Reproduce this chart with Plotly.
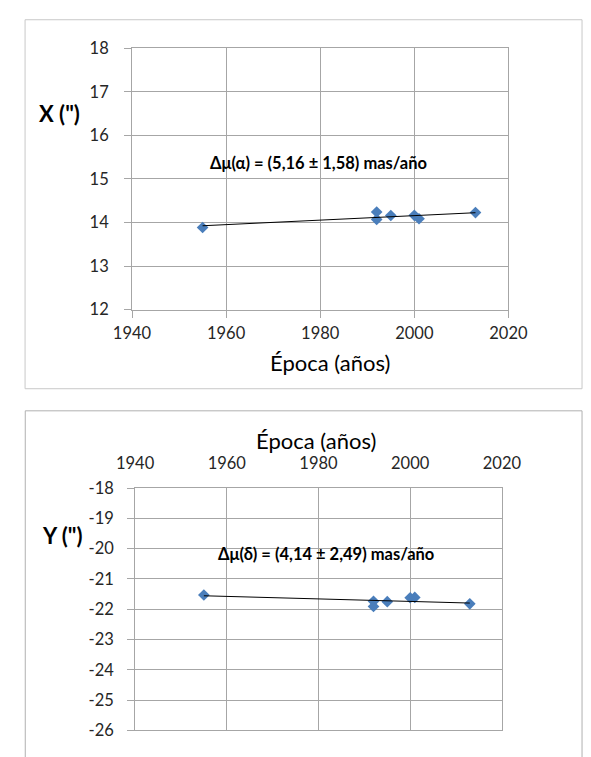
import plotly.graph_objects as go

# Observation epochs (years) and measured offsets (arcsec)
epochs = [1955, 1992, 1992, 1995, 2000, 2001, 2013]
x_offsets = [13.884, 14.24, 14.07, 14.16, 14.165, 14.085, 14.226]
y_offsets = [-21.53, -21.74, -21.91, -21.75, -21.62, -21.61, -21.82]

# Fitted proper-motion differences (mas/year) and their errors
mu_alpha, mu_alpha_err = 5.16, 1.58
mu_delta, mu_delta_err = 4.14, 2.49

x_ticks = [1940, 1960, 1980, 2000, 2020]
top_y_ticks = [12, 13, 14, 15, 16, 17, 18]
bottom_y_ticks = [-26, -25, -24, -23, -22, -21, -20, -19, -18]

W, H = 591, 757
FONT = "Lato"
GRID = "#A6A6A6"
MARKER = "#4A7EBB"


def px(x):
    return x / W


def py(y):
    return 1 - y / H


def trend(xs, ys, slope):
    """Straight line with the given slope through the centroid of the points."""
    mx = sum(xs) / len(xs)
    my = sum(ys) / len(ys)
    x0, x1 = min(xs), max(xs)
    return [x0, x1], [my + slope * (x0 - mx), my + slope * (x1 - mx)]


def label(v):
    # plain hyphen for negative numbers, as in spreadsheet charts
    return str(v)


fig = go.Figure()

# Top panel: X offset versus epoch
fig.add_trace(go.Scatter(
    x=epochs, y=x_offsets, mode="markers",
    marker=dict(symbol="diamond", size=9, color=MARKER),
    xaxis="x", yaxis="y", showlegend=False, hoverinfo="x+y"))
tx, ty = trend(epochs, x_offsets, mu_alpha / 1000)
fig.add_trace(go.Scatter(
    x=tx, y=ty, mode="lines", line=dict(color="#000000", width=1),
    xaxis="x", yaxis="y", showlegend=False, hoverinfo="skip"))

# Bottom panel: Y offset versus epoch (Y decreases with time)
fig.add_trace(go.Scatter(
    x=epochs, y=y_offsets, mode="markers",
    marker=dict(symbol="diamond", size=9, color=MARKER),
    xaxis="x2", yaxis="y2", showlegend=False, hoverinfo="x+y"))
bx, by = trend(epochs, y_offsets, -mu_delta / 1000)
fig.add_trace(go.Scatter(
    x=bx, y=by, mode="lines", line=dict(color="#000000", width=1),
    xaxis="x2", yaxis="y2", showlegend=False, hoverinfo="skip"))

tick_font = dict(family=FONT, size=16.5, color="#262626")

common_x = dict(
    range=[x_ticks[0], x_ticks[-1]], tickvals=x_ticks,
    ticktext=[label(v) for v in x_ticks],
    showgrid=True, gridcolor=GRID, gridwidth=1,
    showline=True, linecolor=GRID, linewidth=1, mirror=True,
    zeroline=False, tickfont=tick_font, fixedrange=True,
)
common_y = dict(
    showgrid=True, gridcolor=GRID, gridwidth=1,
    showline=True, linecolor=GRID, linewidth=1, mirror=True,
    zeroline=False, tickfont=tick_font, fixedrange=True,
    ticks="outside", ticklen=7, tickcolor=GRID,
)


def text_at(text, x, y, size, bold=False):
    return dict(text=f"<b>{text}</b>" if bold else text,
                xref="paper", yref="paper", x=px(x), y=py(y),
                xanchor="center", yanchor="middle", showarrow=False,
                font=dict(family=FONT, size=size, color="#000000"))


def fit_label(symbol, mu, err):
    txt = f"Δμ({symbol}) = ({mu:.2f} ± {err:.2f}) mas/año"
    return txt.replace(".", ",")


fig.update_layout(
    width=W, height=H,
    margin=dict(l=0, r=0, t=0, b=0),
    paper_bgcolor="white", plot_bgcolor="white",
    font=dict(family=FONT, color="#000000"),
    xaxis=dict(**common_x, domain=[px(121), px(524)], anchor="y",
               ticks="outside", ticklen=7, tickcolor=GRID,
               ticklabelstandoff=2),
    yaxis=dict(**common_y, domain=[py(307.7), py(39.3)], anchor="x",
               range=[top_y_ticks[0], top_y_ticks[-1]], tickvals=top_y_ticks,
               ticktext=[label(v) for v in top_y_ticks],
               ticklabelstandoff=12),
    xaxis2=dict(**common_x, domain=[px(124.3), px(517)], anchor="y2",
                side="top", ticks="", ticklabelstandoff=11),
    yaxis2=dict(**common_y, domain=[py(740), py(491)], anchor="x2",
                range=[bottom_y_ticks[0], bottom_y_ticks[-1]],
                tickvals=bottom_y_ticks,
                ticktext=[label(v) for v in bottom_y_ticks],
                ticklabelstandoff=10),
    shapes=[
        # frame around each chart
        dict(type="rect", xref="paper", yref="paper",
             x0=px(6.5), x1=1.02, y0=py(389), y1=py(10),
             line=dict(color="#C8C8C8", width=1)),
        dict(type="rect", xref="paper", yref="paper",
             x0=px(6.7), x1=1.02, y0=-0.02, y1=py(411.7),
             line=dict(color="#B0B0B0", width=1)),
    ],
    annotations=[
        text_at("Época (años)", 333, 361.7, 22),
        text_at("Época (años)", 318, 442, 22),
        text_at("X (\")", 43.5, 106, 22, bold=True),
        text_at("Y (\")", 45.6, 540, 22, bold=True),
        text_at(fit_label("α", mu_alpha, mu_alpha_err), 321, 156.7, 16.5, bold=True),
        text_at(fit_label("δ", mu_delta, mu_delta_err), 328.5, 558.3, 16.5, bold=True),
    ],
)

fig.write_html("out.html")
